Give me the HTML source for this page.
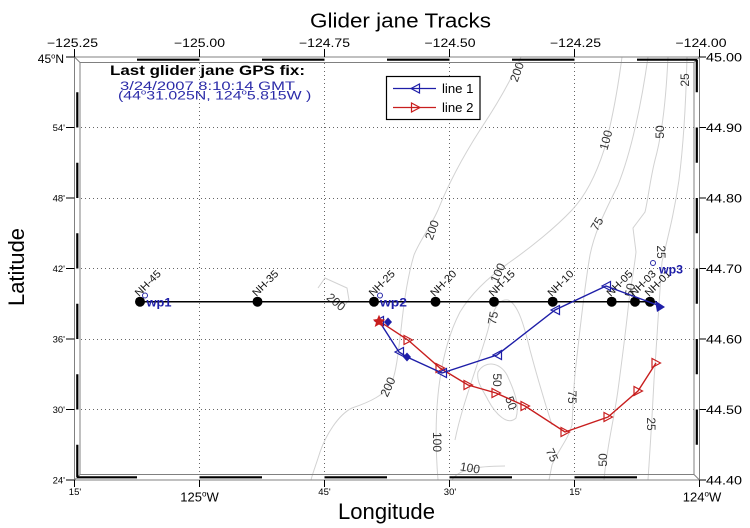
<!DOCTYPE html>
<html><head><meta charset="utf-8"><style>
html,body{margin:0;padding:0;background:#fff;}
svg{display:block;}
text{font-family:"Liberation Sans",Arial,sans-serif;}
</style></head><body>
<svg width="750" height="528" viewBox="0 0 750 528" xmlns="http://www.w3.org/2000/svg">
<rect width="750" height="528" fill="#fff"/>

<!-- grid -->
<g stroke="#666" stroke-width="1" stroke-dasharray="1 3" fill="none">
<line x1="199.5" y1="63" x2="199.5" y2="474"/>
<line x1="324.5" y1="63" x2="324.5" y2="474"/>
<line x1="449.5" y1="63" x2="449.5" y2="474"/>
<line x1="574.5" y1="63" x2="574.5" y2="474"/>
<line x1="81" y1="127.5" x2="694" y2="127.5"/>
<line x1="81" y1="198.5" x2="694" y2="198.5"/>
<line x1="81" y1="268.5" x2="694" y2="268.5"/>
<line x1="81" y1="339.5" x2="694" y2="339.5"/>
<line x1="81" y1="409.5" x2="694" y2="409.5"/>
</g>

<!-- contours -->
<g stroke="#d2d2d2" stroke-width="1" fill="none">
<path d="M521,57 C512,78 500,100 480,130 C462,158 448,185 438,210 C430,228 420,240 414,255 C408,275 404,300 401,330 C398,355 396,372 392,382 C385,395 370,402 352,408 C338,415 326,435 320,452 C316,465 313,472 311,480"/>
<path d="M318,288 L325,278 L347,288 L349,300 L345,305"/>
<path d="M622,57 C617,95 611,125 604,150 C596,175 586,195 572,210 C555,228 530,248 510,262 C490,276 472,292 460,312 C448,335 441,365 438,395 C435,425 436,455 438,480"/>
<path d="M452,480 C458,470 475,466 505,466"/>
<path d="M648,57 C642,100 632,150 618,185 C606,210 595,230 590,255 C584,290 580,330 576,365 C573,390 573,410 572,425 C568,440 558,450 552,465 L549,480"/>
<path d="M455,440 C462,405 478,365 488,330 C492,312 498,298 508,300 C518,304 524,325 530,350 C538,380 544,400 552,425"/>
<path d="M668,57 C666,100 662,135 655,160 C650,180 648,200 645,212 L633,228 L636,252 C634,270 631,285 629,300 C626,330 622,360 618,390 C614,420 607,445 604,480"/>
<path d="M478,372 C485,360 500,362 507,375 C514,390 520,405 516,418 C508,426 496,415 488,400 C483,390 476,382 478,372 Z"/>
<path d="M687,57 C686,100 684,140 679,180 C674,215 667,240 662,262 C659,300 657,340 654,380 C652,420 650,450 648,480"/>
</g>

<!-- contour labels -->
<g fill="#333" font-size="12" text-anchor="middle" dominant-baseline="central">
<text transform="translate(517,72) rotate(-70)">200</text>
<text transform="translate(685,80) rotate(-90)">25</text>
<text transform="translate(606,140) rotate(-75)">100</text>
<text transform="translate(660,132) rotate(-90)">50</text>
<text transform="translate(597,224) rotate(-60)">75</text>
<text transform="translate(432,230) rotate(-70)">200</text>
<text transform="translate(661,252) rotate(90)">25</text>
<text transform="translate(336,302) rotate(40)">200</text>
<text transform="translate(498,273) rotate(-65)">100</text>
<text transform="translate(630,290) rotate(-80)">50</text>
<text transform="translate(493,318) rotate(-80)">75</text>
<text transform="translate(388,387) rotate(-65)">200</text>
<text transform="translate(497,380) rotate(90)">50</text>
<text transform="translate(511,403) rotate(70)">50</text>
<text transform="translate(572,397) rotate(90)">75</text>
<text transform="translate(651,424) rotate(90)">25</text>
<text transform="translate(437,442) rotate(90)">100</text>
<text transform="translate(552,455) rotate(65)">75</text>
<text transform="translate(603,460) rotate(-90)">50</text>
<text transform="translate(470,468) rotate(10)">100</text>
</g>

<!-- frame -->
<g fill="none" stroke="#808080" stroke-width="1">
<rect x="74.5" y="57" width="625" height="423"/>
<rect x="80" y="62.5" width="614" height="412"/>
<line x1="74.5" y1="57" x2="80" y2="62.5"/>
<line x1="699.5" y1="57" x2="694" y2="62.5"/>
<line x1="74.5" y1="480" x2="80" y2="474.5"/>
<line x1="699.5" y1="480" x2="694" y2="474.5"/>
</g>
<g stroke="#000" stroke-width="2.2" fill="none">
<path d="M137,59.7H199.5M262,59.7H324.5M387,59.7H449.5M512,59.7H574.5M637,59.7H697"/>
<path d="M77,477.3H137M199.5,477.3H262M324.5,477.3H387M449.5,477.3H512M574.5,477.3H637"/>
<path d="M77.3,92.25V127.5M77.3,162.75V198M77.3,233.25V268.5M77.3,303.75V339M77.3,374.25V409.5M77.3,444.75V477"/>
<path d="M696.8,60V92.25M696.8,127.5V162.75M696.8,198V233.25M696.8,268.5V303.75M696.8,339V374.25M696.8,409.5V444.75"/>
</g>

<!-- ticks -->
<g stroke="#000" stroke-width="1">
<path d="M74.5,49V57M199.5,49V57M324.5,49V57M449.5,49V57M574.5,49V57M699.5,49V57"/>
<path d="M74.5,480V487M199.5,480V487M324.5,480V487M449.5,480V487M574.5,480V487M699.5,480V487"/>
<path d="M66,57H74.5M66,127.5H74.5M66,198H74.5M66,268.5H74.5M66,339H74.5M66,409.5H74.5M66,480H74.5"/>
<path d="M699.5,57H706M699.5,127.5H706M699.5,198H706M699.5,268.5H706M699.5,339H706M699.5,409.5H706M699.5,480H706"/>
</g>

<!-- top labels -->
<g font-size="11.6" fill="#000" text-anchor="middle">
<text x="72.5" y="47" textLength="51" lengthAdjust="spacingAndGlyphs">−125.25</text>
<text x="199.5" y="47" textLength="51" lengthAdjust="spacingAndGlyphs">−125.00</text>
<text x="324.5" y="47" textLength="51" lengthAdjust="spacingAndGlyphs">−124.75</text>
<text x="450" y="47" textLength="51" lengthAdjust="spacingAndGlyphs">−124.50</text>
<text x="575.5" y="47" textLength="51" lengthAdjust="spacingAndGlyphs">−124.25</text>
<text x="701" y="47" textLength="51" lengthAdjust="spacingAndGlyphs">−124.00</text>
</g>

<!-- right labels -->
<g font-size="12" fill="#000">
<text x="706" y="61.5" textLength="36" lengthAdjust="spacingAndGlyphs">45.00</text>
<text x="706" y="132" textLength="36" lengthAdjust="spacingAndGlyphs">44.90</text>
<text x="706" y="202.5" textLength="36" lengthAdjust="spacingAndGlyphs">44.80</text>
<text x="706" y="273" textLength="36" lengthAdjust="spacingAndGlyphs">44.70</text>
<text x="706" y="343.5" textLength="36" lengthAdjust="spacingAndGlyphs">44.60</text>
<text x="706" y="414" textLength="36" lengthAdjust="spacingAndGlyphs">44.50</text>
<text x="706" y="484.5" textLength="36" lengthAdjust="spacingAndGlyphs">44.40</text>
</g>

<!-- left labels -->
<text x="64" y="63" font-size="12" text-anchor="end" fill="#000">45<tspan font-size="7.5" dy="-4.5">o</tspan><tspan dy="4.5">N</tspan></text>
<g font-size="9.5" fill="#000" text-anchor="end">
<text x="65" y="131">54'</text>
<text x="65" y="201.5">48'</text>
<text x="65" y="272">42'</text>
<text x="65" y="342.5">36'</text>
<text x="65" y="413">30'</text>
<text x="65" y="483.5">24'</text>
</g>

<!-- bottom labels -->
<g font-size="9.5" fill="#000" text-anchor="middle">
<text x="75" y="495">15'</text>
<text x="324.5" y="495">45'</text>
<text x="450" y="495">30'</text>
<text x="575.5" y="495">15'</text>
</g>
<text x="199.5" y="501.7" font-size="13" text-anchor="middle" fill="#000">125<tspan font-size="8" dy="-5">o</tspan><tspan dy="5">W</tspan></text>
<text x="702" y="501.7" font-size="13" text-anchor="middle" fill="#000">124<tspan font-size="8" dy="-5">o</tspan><tspan dy="5">W</tspan></text>

<!-- axis titles -->
<text x="310" y="27.3" font-size="20" fill="#000" textLength="181" lengthAdjust="spacingAndGlyphs">Glider jane Tracks</text>
<text x="338" y="519" font-size="22" fill="#000" textLength="97" lengthAdjust="spacingAndGlyphs">Longitude</text>
<text transform="translate(24,306) rotate(-90)" font-size="22" fill="#000" textLength="78" lengthAdjust="spacingAndGlyphs">Latitude</text>

<!-- info text -->
<text x="110" y="75" font-size="13.5" font-weight="bold" fill="#000" textLength="195" lengthAdjust="spacingAndGlyphs">Last glider jane GPS fix:</text>
<text x="120" y="90" font-size="12.3" fill="#2a2aa8" textLength="175" lengthAdjust="spacingAndGlyphs">3/24/2007 8:10:14 GMT</text>
<g transform="translate(118,99.5) scale(1.29,1)">
<text x="0" y="0" font-size="12.3" fill="#2a2aa8">(44<tspan font-size="7.5" dy="-5">o</tspan><tspan dy="5">31.025N, 124</tspan><tspan font-size="7.5" dy="-5">o</tspan><tspan dy="5">5.815W )</tspan></text>
</g>

<!-- legend -->
<rect x="386.5" y="76.5" width="93.5" height="43" fill="#fff" stroke="#000" stroke-width="1.2"/>
<line x1="393" y1="88.5" x2="436" y2="88.5" stroke="#1e1ea8" stroke-width="1.3"/>
<polygon points="411,88.5 419.5,84 419.5,93" fill="none" stroke="#1e1ea8" stroke-width="1.2"/>
<line x1="393" y1="107.5" x2="436" y2="107.5" stroke="#c81e1e" stroke-width="1.3"/>
<polygon points="420,107.5 411.5,103 411.5,112" fill="none" stroke="#c81e1e" stroke-width="1.2"/>
<text x="442" y="93" font-size="13" fill="#000" textLength="31.5" lengthAdjust="spacingAndGlyphs">line 1</text>
<text x="442" y="112" font-size="13" fill="#000" textLength="31.5" lengthAdjust="spacingAndGlyphs">line 2</text>

<!-- NH line -->
<line x1="140" y1="301.7" x2="657" y2="301.7" stroke="#000" stroke-width="1.5"/>
<g fill="#000">
<circle cx="140" cy="301.7" r="5"/>
<circle cx="257.5" cy="301.7" r="5"/>
<circle cx="374" cy="301.7" r="5"/>
<circle cx="435.5" cy="301.7" r="5"/>
<circle cx="494" cy="301.7" r="5"/>
<circle cx="552.7" cy="301.7" r="5"/>
<circle cx="611.7" cy="301.7" r="5"/>
<circle cx="635" cy="301.7" r="5"/>
<circle cx="650" cy="301.7" r="5"/>
</g>
<g font-size="10.5" fill="#111">
<text transform="translate(139,297) rotate(-45)" textLength="32" lengthAdjust="spacingAndGlyphs">NH-45</text>
<text transform="translate(256.5,297) rotate(-45)" textLength="32" lengthAdjust="spacingAndGlyphs">NH-35</text>
<text transform="translate(373,297) rotate(-45)" textLength="32" lengthAdjust="spacingAndGlyphs">NH-25</text>
<text transform="translate(434.5,297) rotate(-45)" textLength="32" lengthAdjust="spacingAndGlyphs">NH-20</text>
<text transform="translate(493,297) rotate(-45)" textLength="32" lengthAdjust="spacingAndGlyphs">NH-15</text>
<text transform="translate(551.7,297) rotate(-45)" textLength="32" lengthAdjust="spacingAndGlyphs">NH-10</text>
<text transform="translate(610.7,297) rotate(-45)" textLength="32" lengthAdjust="spacingAndGlyphs">NH-05</text>
<text transform="translate(634,297) rotate(-45)" textLength="32" lengthAdjust="spacingAndGlyphs">NH-03</text>
<text transform="translate(649,297) rotate(-45)" textLength="32" lengthAdjust="spacingAndGlyphs">NH-01</text>
</g>

<!-- waypoints -->
<g fill="none" stroke="#2a2aa8" stroke-width="1">
<circle cx="145" cy="295.5" r="2.5"/>
<circle cx="380" cy="295.5" r="2.5"/>
<circle cx="653" cy="263" r="2.5"/>
</g>
<g font-size="12" font-weight="bold" fill="#1e1ea8">
<text x="146.5" y="306.5" textLength="25" lengthAdjust="spacingAndGlyphs">wp1</text>
<text x="380" y="306.5" textLength="27" lengthAdjust="spacingAndGlyphs">wp2</text>
<text x="659" y="273.5" textLength="24" lengthAdjust="spacingAndGlyphs">wp3</text>
</g>

<!-- red track -->
<polyline points="379,321 408,340 440,368 468,385 496,393 525,406 565,432 608,417 638,391 656,363" fill="none" stroke="#c81e1e" stroke-width="1.4"/>
<g fill="none" stroke="#c81e1e" stroke-width="1.2">
<polygon points="412.5,340 404,335.5 404,344.5"/>
<polygon points="444.5,368 436,363.5 436,372.5"/>
<polygon points="472.5,385 464,380.5 464,389.5"/>
<polygon points="500.5,393 492,388.5 492,397.5"/>
<polygon points="529.5,406 521,401.5 521,410.5"/>
<polygon points="569.5,432 561,427.5 561,436.5"/>
<polygon points="612.5,417 604,412.5 604,421.5"/>
<polygon points="642.5,391 634,386.5 634,395.5"/>
<polygon points="660.5,363 652,358.5 652,367.5"/>
</g>

<!-- blue track -->
<polyline points="379,321 399,352 407,357 442,373 497,355 555,310 606,286 660,306" fill="none" stroke="#1e1ea8" stroke-width="1.4"/>
<g fill="none" stroke="#1e1ea8" stroke-width="1.2">
<polygon points="375,321 383.5,316.5 383.5,325.5"/>
<polygon points="395,352 403.5,347.5 403.5,356.5"/>
<polygon points="438,373 446.5,368.5 446.5,377.5"/>
<polygon points="493,355 501.5,350.5 501.5,359.5"/>
<polygon points="551,310 559.5,305.5 559.5,314.5"/>
<polygon points="602,286 610.5,281.5 610.5,290.5"/>
</g>
<polygon points="379,316 380.5,319.5 384,320 381.5,322.5 382.5,326 379,324 375.5,326 376.5,322.5 374,320 377.5,319.5" fill="#c81e1e" stroke="#c81e1e" stroke-width="1"/>
<g fill="#1e1ea8">
<polygon points="388,317.5 392,322 388,326.5 384,322"/>
<polygon points="407,352.5 411,357 407,361.5 403,357"/>
<polygon points="665,307 655,300.5 657,312"/>
</g>
</svg>
</body></html>
